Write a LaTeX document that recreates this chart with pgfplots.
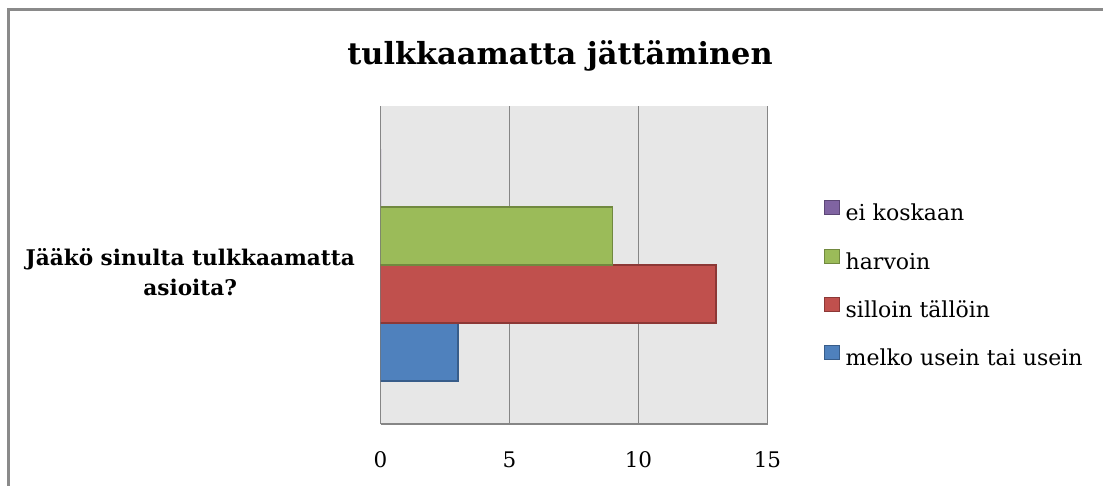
\documentclass[border=0pt]{standalone}
\usepackage{pgfplots}
\pgfplotsset{compat=1.18}
\usepackage{fontspec}
\setmainfont{DejaVu Serif}
\definecolor{cblue}{HTML}{4F81BD}
\definecolor{cblueD}{HTML}{385D8A}
\definecolor{cred}{HTML}{C0504D}
\definecolor{credD}{HTML}{8C3836}
\definecolor{cgreen}{HTML}{9BBB59}
\definecolor{cgreenD}{HTML}{71893F}
\definecolor{cpurple}{HTML}{8064A2}
\definecolor{cpurpleD}{HTML}{5C4776}
\definecolor{bgcol}{HTML}{E7E7E7}
\definecolor{gridcol}{HTML}{868686}
\definecolor{framecol}{HTML}{8A8A8A}
\begin{document}
\begin{tikzpicture}
\path[use as bounding box] (0,0) rectangle (1103bp,-486bp);
\begin{scope}
\clip (0,0) rectangle (1103bp,-486bp);
\draw[line width=3bp, color=framecol] (8.5bp,-9bp) rectangle (1130bp,-520bp);
\end{scope}
\node[anchor=base, font=\bfseries\fontsize{30.4bp}{34bp}\selectfont] at (560bp,-64bp) {tulkkaamatta jättäminen};
\begin{axis}[
  at={(380.5bp,-106bp)}, anchor=north west,
  width=387bp, height=318bp, scale only axis,
  xbar,
  xmin=0, xmax=15, ymin=-1, ymax=1,
  xtick={0,5,10,15},
  ytick={0},
  yticklabels={{Jääkö sinulta tulkkaamatta\\asioita?}},
  major tick length=0pt,
  axis background/.style={fill=bgcol},
  axis x line*=bottom, axis y line*=left,
  axis line style={draw=gridcol, line width=1.8bp},
  xmajorgrids,
  major grid style={draw=gridcol, line width=1.8bp},
  /pgf/number format/assume math mode=true,
  xticklabel style={font=\fontsize{21.5bp}{25bp}\selectfont, anchor=base, inner sep=0pt, yshift=-43bp},
  yticklabel style={font=\bfseries\fontsize{21.6bp}{30bp}\selectfont, align=center, anchor=east, inner sep=0pt, xshift=-25.5bp, yshift=-7bp},
  bar width=58bp,
  legend image code/.code={\draw[#1, line width=1bp] (0bp,0.5bp) rectangle (15bp,14.5bp);},
  reverse legend,
  legend style={draw=none, fill=none, at={(1.146,0.4356)}, anchor=west, inner sep=0pt, outer sep=0pt,
    font=\fontsize{22bp}{26bp}\selectfont, row sep=22.7bp, column sep=5.7bp,
    nodes={inner sep=0pt, text height=16bp, text depth=5bp}},
  legend cell align=left,
]
\addplot[fill=cblue, draw=cblueD, line width=1.2bp, bar shift=-87bp] coordinates {(3,0)};
\addplot[fill=cred, draw=credD, line width=1.2bp, bar shift=-29bp] coordinates {(13,0)};
\addplot[fill=cgreen, draw=cgreenD, line width=1.2bp, bar shift=29bp] coordinates {(9,0)};
\addplot[forget plot, fill=cpurple, draw=none, bar shift=87bp] coordinates {(0,0)};
\addlegendimage{fill=cpurple, draw=cpurpleD}
\legend{melko usein tai usein, silloin tällöin, harvoin, ei koskaan}
\end{axis}
\end{tikzpicture}
\end{document}
